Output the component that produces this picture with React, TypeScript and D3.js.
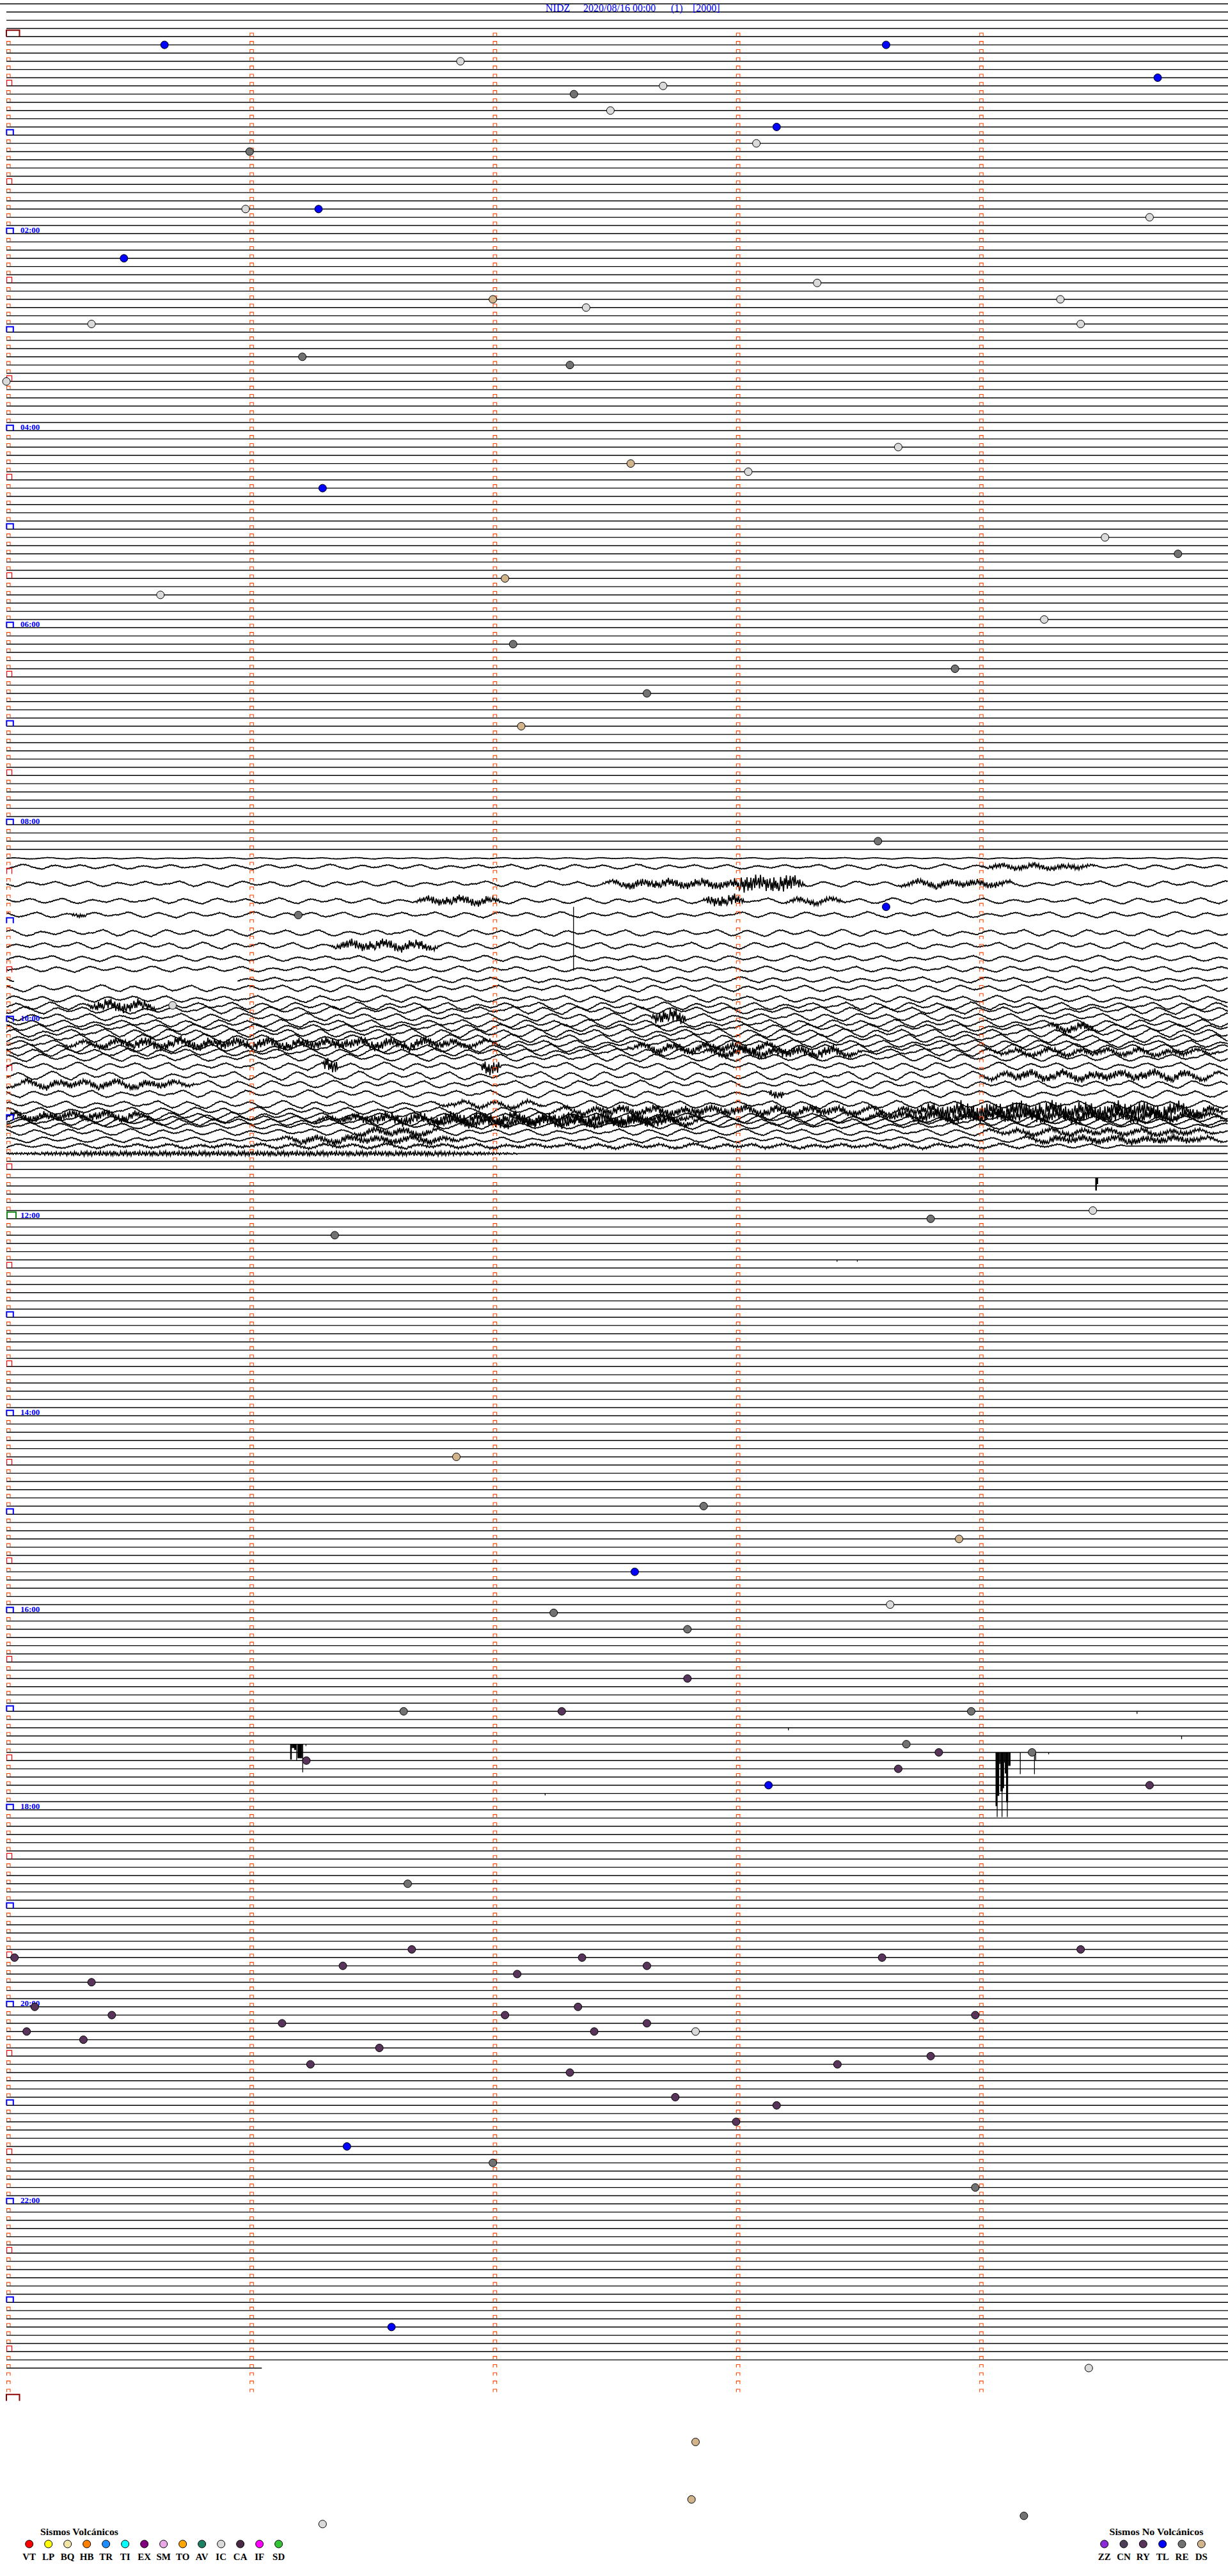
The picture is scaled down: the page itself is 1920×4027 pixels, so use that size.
import React from "react";
import * as d3 from "d3";

const W = 1920;
const H = 4027;

// header
const station = "NIDZ";
const stamp = "2020/08/16 00:00";
const pageNo = "(1)";
const gainLabel = "[2000]";

const hourLabels = ["02:00", "04:00", "06:00", "08:00", "10:00", "12:00", "14:00", "16:00", "18:00", "20:00", "22:00"];
const dataEnd = "23:41:03";

// legend
const volcanicCodes = ["VT", "LP", "BQ", "HB", "TR", "TI", "EX", "SM", "TO", "AV", "IC", "CA", "IF", "SD"];
const volcanicColors = ["#FF0000", "#FFFF00", "#F2E4A6", "#FF8000", "#1E8CFF", "#00FFFF", "#800080", "#E8A8E8", "#FFA500", "#1F7F62", "#DADADA", "#4A2B45", "#FF00FF", "#33C433"];
const nonVolcanicCodes = ["ZZ", "CN", "RY", "TL", "RE", "DS"];
const nonVolcanicColors = ["#8A2BD8", "#4F3E58", "#58345A", "#0000FF", "#727272", "#D2B48C"];

// picked events: [time, type]
const events: [string, string][] = [
  ["00:05:39", "TL"], ["00:16:52", "IC"], ["00:08:37", "TL"], ["00:29:44", "TL"], ["00:37:20", "RE"],
  ["00:32:42", "IC"], ["00:47:29", "IC"], ["00:58:10", "TL"], ["01:08:05", "IC"], ["01:11:00", "RE"],
  ["01:45:59", "IC"], ["01:46:17", "TL"], ["01:54:42", "IC"], ["02:15:29", "TL"], ["02:33:20", "IC"],
  ["02:42:00", "DS"], ["02:47:23", "IC"], ["02:44:20", "IC"], ["02:59:25", "IC"], ["02:55:21", "IC"],
  ["03:16:13", "RE"], ["03:22:19", "RE"], ["03:30:00", "IC"], ["04:13:40", "IC"], ["04:22:34", "DS"],
  ["04:28:03", "IC"], ["04:36:18", "TL"], ["05:09:31", "IC"], ["05:19:49", "RE"], ["05:32:03", "DS"],
  ["05:40:38", "IC"], ["05:59:16", "IC"], ["06:12:05", "RE"], ["06:28:54", "RE"], ["06:42:38", "RE"],
  ["07:02:07", "DS"], ["08:13:35", "RE"], ["08:53:37", "TL"], ["08:56:12", "RE"], ["09:50:41", "IC"],
  ["12:03:48", "RE"], ["11:59:28", "IC"], ["12:11:21", "RE"], ["14:26:51", "DS"], ["14:57:52", "RE"],
  ["15:18:55", "DS"], ["15:37:35", "TL"], ["15:58:38", "IC"], ["16:02:15", "RE"], ["16:12:48", "RE"],
  ["16:42:48", "RY"], ["17:01:38", "RE"], ["17:02:17", "RY"], ["17:03:58", "RE"], ["17:23:42", "RE"],
  ["17:28:50", "RY"], ["17:38:40", "RY"], ["17:29:13", "RE"], ["17:31:14", "RY"], ["17:48:08", "TL"],
  ["17:49:42", "RY"], ["18:46:39", "RE"], ["19:30:02", "RY"], ["19:26:40", "RY"], ["19:29:25", "RY"],
  ["19:45:21", "RY"], ["19:36:23", "RY"], ["19:32:22", "RY"], ["19:37:38", "RY"], ["19:33:36", "RY"],
  ["19:42:06", "RY"], ["20:00:07", "RY"], ["20:05:26", "RY"], ["20:07:03", "RY"], ["20:02:21", "RY"],
  ["20:08:59", "RY"], ["20:15:05", "RY"], ["20:11:08", "RY"], ["20:12:38", "RY"], ["20:17:25", "RY"],
  ["20:17:50", "IC"], ["20:20:19", "RY"], ["20:26:32", "RY"], ["20:36:15", "RY"], ["20:33:48", "RY"],
  ["20:38:25", "RY"], ["20:42:19", "RY"], ["20:57:45", "RY"], ["21:03:10", "RY"], ["21:13:00", "RY"],
  ["21:26:24", "TL"], ["21:37:00", "RE"], ["21:53:59", "RE"], ["23:16:35", "TL"], ["23:44:27", "IC"],
  ["24:27:50", "DS"], ["25:02:49", "DS"], ["25:16:18", "IC"], ["25:14:11", "RE"],
];

// noisy stretch 08:20 - 11:25 (rows 100..136): trace offset from its line and wave size, px
const noisyFirstRow = 100;
const traceOffsets = [1.1, 1.6, 15.4, 29.2, 38.1, 53.6, 60.7, 67.9, 71.7, 75.6, 76.1, 79.9, 78.1, 71.9, 69.7, 66.9, 60.7, 56.2, 51.7, 47.2, 41.1, 34.9, 30.4, 30.9, 33.1, 33.6, 35.7, 39.6, 36.7, 32.2, 23.7, 15.6, 8.7, 5.9, 4.7, 1.9, 0.7];
const waveAmps = [0.9, 3, 3.6, 3.6, 3.6, 4.2, 4.2, 3.6, 3.6, 3.6, 4.2, 4.2, 4.8, 4.8, 4.8, 4.8, 4.8, 5.4, 5.4, 4.8, 5.4, 4.8, 4.8, 4.8, 5.4, 4.8, 4.8, 4.8, 4.8, 4.8, 4.8, 4.8, 4.2, 4.2, 3.6, 3, 0];
// [row, end second] where the trace goes flat
const waveEnds: [number, number][] = [[135, 276], [136, 126]];
// [row, from s, to s, amplitude px]
const bursts: [number, number, number, number][] = [
  [101, 240, 269, 4], [102, 147, 192, 6], [102, 178, 197, 12], [102, 220, 249, 5],
  [103, 101, 122, 6], [103, 172, 182, 8], [103, 192, 207, 4], [104, 16, 20, 3],
  [106, 80, 107, 7], [112, 20, 37, 8], [114, 159, 168, 10], [116, 257, 269, 6],
  [119, 14, 122, 7], [120, 153, 192, 6], [121, 172, 211, 7], [121, 240, 300, 4],
  [123, 78, 82, 10], [123, 117, 122, 10], [124, 240, 300, 6], [125, 0, 47, 5],
  [126, 188, 192, 6], [127, 105, 134, 3], [128, 134, 220, 6], [128, 220, 300, 12],
  [129, 0, 37, 6], [129, 211, 300, 8], [130, 76, 172, 8], [131, 105, 172, 7],
  [133, 85, 107, 5], [133, 240, 300, 4], [134, 66, 114, 5], [134, 250, 300, 5],
  [135, 0, 276, 2], [136, 0, 126, 4],
];
const traceGaps: [number, number, number][] = [[109, 2, 57]];
// shape of the background wiggle and the fine jitter
const motif = [0, -0.7, -1.2, -0.5, 0.4, 1.1, 0.7, -0.2, -0.9, -0.6, 0.1, 0.8, 1.3, 0.6, -0.4, -1.1, -0.8, 0, 0.5, 0.3, -0.3, -0.9, -0.4, 0.5, 1.0, 0.9, 0.2, -0.6, -1.3, -0.9, 0.1, 0.7, 1.2, 0.4, -0.5, -0.8, -0.2, 0.4, 0.2, -0.4, -1.0, -0.6, 0.3, 0.9, 0.6, 0, -0.7, -1.1, -0.3, 0.6, 1.1, 0.8, 0, -0.5, -0.3, 0.2, 0.6, 0.1, -0.6, -1.0, -0.5, 0.3, 0.5, 0];
const jitter = [0.6, -0.9, 0.3, -0.4, 1, -0.7, 0.2, -1, 0.8, -0.3, 0.5, -0.8, 0.9, -0.2, -0.6, 0.7, -1, 0.4, 0.1, -0.5, 0.9, -0.9, 0.3, 0.6, -0.7, 0.2, -0.4, 1, -0.6, 0.5, -0.1, -0.8, 0.7, -0.3, 0.8, -1, 0.4, -0.5, 0.6, -0.2, 0.9];

// clipped spikes hanging below the line: [from, to, depth px]
const spikes: [string, string, number][] = [
  ["08:52:19.8", "08:52:20", 100],
  ["11:39:28.6", "11:39:29", 20], ["11:39:29", "11:39:29.3", 10],
  ["12:28:24.8", "12:28:25", 3], ["12:28:29.8", "12:28:30", 3],
  ["17:04:38.8", "17:04:39", 4], ["17:13:12.8", "17:13:13", 4], ["17:19:49.8", "17:19:50", 5],
  ["17:21:10", "17:21:10.4", 24], ["17:21:10.4", "17:21:11", 6], ["17:21:11", "17:21:11.5", 9],
  ["17:21:11.5", "17:21:11.7", 25], ["17:21:11.8", "17:21:13", 22], ["17:21:13", "17:21:13.2", 44],
  ["17:21:13.8", "17:21:14", 3],
  ["17:29:04", "17:29:04.4", 84], ["17:29:04.3", "17:29:04.5", 101], ["17:29:04.4", "17:29:04.9", 68],
  ["17:29:04.9", "17:29:05.2", 18], ["17:29:05.2", "17:29:05.8", 61], ["17:29:05.5", "17:29:05.7", 101],
  ["17:29:05.8", "17:29:06.1", 56], ["17:29:06.1", "17:29:06.3", 16], ["17:29:06.3", "17:29:06.6", 33],
  ["17:29:06.6", "17:29:07.1", 78], ["17:29:06.8", "17:29:07", 101], ["17:29:07.1", "17:29:07.7", 21],
  ["17:29:10", "17:29:10.2", 34], ["17:29:13.5", "17:29:13.7", 34], ["17:29:13.8", "17:29:14", 12],
  ["17:29:17", "17:29:17.2", 3], ["17:52:12.8", "17:52:13", 3],
];

const xSec = d3.scaleLinear().domain([0, 300]).range([10, 1911.5]);
const yRow = d3.scaleLinear().domain([0, 288]).range([57.3, 3753.3]);
const xVolc = d3.scaleLinear().domain([0, volcanicCodes.length - 1]).range([45.7, 435.7]);
const xNonVolc = d3.scaleLinear().domain([0, nonVolcanicCodes.length - 1]).range([1726.7, 1878.3]);

const toSec = (s: string) => {
  const [h, m, ss] = s.split(":").map(Number);
  return h * 3600 + m * 60 + (ss || 0);
};
const place = (s: string) => {
  const t = toSec(s);
  const row = Math.floor(t / 300);
  return { row, x: xSec(t - row * 300), y: yRow(row) };
};

const allColors: Record<string, string> = {};
volcanicCodes.forEach((c, i) => (allColors[c] = volcanicColors[i]));
nonVolcanicCodes.forEach((c, i) => (allColors[c] = nonVolcanicColors[i]));

function tracePath(row: number, i: number) {
  const off = traceOffsets[i];
  const amp = waveAmps[i];
  const endE = waveEnds.find((e) => e[0] === row);
  const end = endE ? endE[1] : 400;
  const rb = bursts.filter((b) => b[0] === row);
  const gaps = traceGaps.filter((g) => g[0] === row);
  const base = Math.min(0.8, amp * 0.3);
  const pts: [number, number, boolean][] = [];
  let k = 0;
  for (let x = 10; x <= W; x += 1.5, k++) {
    const s = xSec.invert(x);
    let dy = off;
    if (s < end) {
      const p = x / 7.5 + row * 5.3;
      const j = Math.floor(p);
      const f = p - j;
      const m = motif[j % motif.length] * (1 - f) + motif[(j + 1) % motif.length] * f;
      let n = base;
      rb.forEach((b) => {
        if (s >= b[1] && s <= b[2]) {
          const r = Math.max(1, (b[2] - b[1]) / 4);
          const taper = Math.min(1, (s - b[1]) / r + 0.3, (b[2] - s) / r + 0.3);
          n = Math.max(n, b[3] * taper);
        }
      });
      dy += amp * m + jitter[(k + row * 13) % jitter.length] * n;
    }
    const gap = gaps.some((g) => s >= g[1] && s <= g[2]);
    pts.push([x, yRow(row) + dy, !gap]);
  }
  return d3
    .line<[number, number, boolean]>()
    .defined((d) => d[2])
    .x((d) => d[0])
    .y((d) => d[1])(pts) as string;
}

function Bracket({ x, y, w, h, color, sw }: { x: number; y: number; w: number; h: number; color: string; sw: number }) {
  return <path d={`M${x},${y}V${y - h}H${x + w}V${y}`} fill="none" stroke={color} strokeWidth={sw} />;
}

export default function App() {
  const endInfo = place(dataEnd);
  const noisy = d3.range(noisyFirstRow, noisyFirstRow + traceOffsets.length);
  const flatRows = d3.range(-4, endInfo.row + 1).filter((r) => !noisy.includes(r));

  const markers: JSX.Element[] = [];
  for (let r = 0; r < 288; r++) {
    const y = yRow(r);
    for (let c = 0; c < 5; c++) {
      if (c === 0 && r % 6 === 0) continue;
      const x = xSec(c * 60);
      markers.push(<path key={`m${r}-${c}`} d={`M${x + 0.5},${y - 1}V${y - 5.5}H${x + 6}V${y - 1}`} fill="none" stroke="#FF4500" strokeWidth={1.1} />);
    }
  }
  for (let h = 0; h <= 24; h++) {
    const y = yRow(h * 12);
    if (h === 0 || h === 24) markers.push(<Bracket key={`h${h}`} x={10} y={y} w={20.5} h={10} color="#8B0000" sw={2} />);
    else if (h === 12) markers.push(<Bracket key={`h${h}`} x={11} y={y} w={14} h={10.5} color="#138A13" sw={2} />);
    else markers.push(<Bracket key={`h${h}`} x={10.3} y={y} w={10.5} h={8.5} color="#0000FF" sw={2} />);
    if (h < 24) markers.push(<Bracket key={`hh${h}`} x={10.5} y={yRow(h * 12 + 6)} w={8} h={9} color="#FF0000" sw={1.2} />);
  }

  return (
    <svg width={W} height={H} viewBox={`0 0 ${W} ${H}`} style={{ position: "absolute", left: 0, top: 0, background: "#fff" }}>
      <rect width={W} height={H} fill="#fff" />
      <g stroke="#000" strokeWidth={1.4}>
        {flatRows.map((r) => (
          <line key={r} x1={r === -4 ? 0 : 10} x2={r === endInfo.row ? endInfo.x : W} y1={yRow(r)} y2={yRow(r)} />
        ))}
      </g>
      <g fill="none" stroke="#000" strokeWidth={1.7}>
        {noisy.map((r, i) => (
          <path key={r} d={tracePath(r, i)} />
        ))}
      </g>
      <g fill="#000">
        {spikes.map((s, i) => {
          const a = place(s[0]);
          const b = place(s[1]);
          return <rect key={i} x={a.x} y={a.y} width={Math.max(1.2, b.x - a.x)} height={s[2]} />;
        })}
      </g>
      <g>{markers}</g>
      <g fill="#0000FF" fontFamily="'Liberation Serif', 'DejaVu Serif', serif" fontWeight="bold" fontSize={13}>
        {hourLabels.map((l) => (
          <text key={l} x={32} y={place(l).y - 1}>
            {l}
          </text>
        ))}
      </g>
      <g fill="#0000FF" fontFamily="'Liberation Serif', serif" fontSize={16}>
        <text x={853} y={18.3}>{station}</text>
        <text x={912} y={18.3}>{stamp}</text>
        <text x={1049} y={18.3}>{pageNo}</text>
        <text x={1083} y={18.3}>{gainLabel}</text>
      </g>
      <g stroke="#000" strokeWidth={1}>
        {events.map(([t, code], i) => {
          const p = place(t);
          return <circle key={i} cx={p.x} cy={p.y} r={6} fill={allColors[code]} />;
        })}
      </g>
      <g fontFamily="'Liberation Serif', serif" fontWeight="bold" fill="#000">
        <text x={63} y={3963} fontSize={15} textLength={122} lengthAdjust="spacingAndGlyphs">Sismos Volcánicos</text>
        <text x={1734.5} y={3963} fontSize={15} textLength={147} lengthAdjust="spacingAndGlyphs">Sismos No Volcánicos</text>
        {volcanicCodes.map((c, i) => (
          <g key={c}>
            <circle cx={xVolc(i)} cy={3977} r={6} fill={volcanicColors[i]} stroke="#000" />
            <text x={xVolc(i)} y={4002} fontSize={15} textAnchor="middle">{c}</text>
          </g>
        ))}
        {nonVolcanicCodes.map((c, i) => (
          <g key={c}>
            <circle cx={xNonVolc(i)} cy={3977} r={6} fill={nonVolcanicColors[i]} stroke="#000" />
            <text x={xNonVolc(i)} y={4002} fontSize={15} textAnchor="middle">{c}</text>
          </g>
        ))}
      </g>
    </svg>
  );
}
